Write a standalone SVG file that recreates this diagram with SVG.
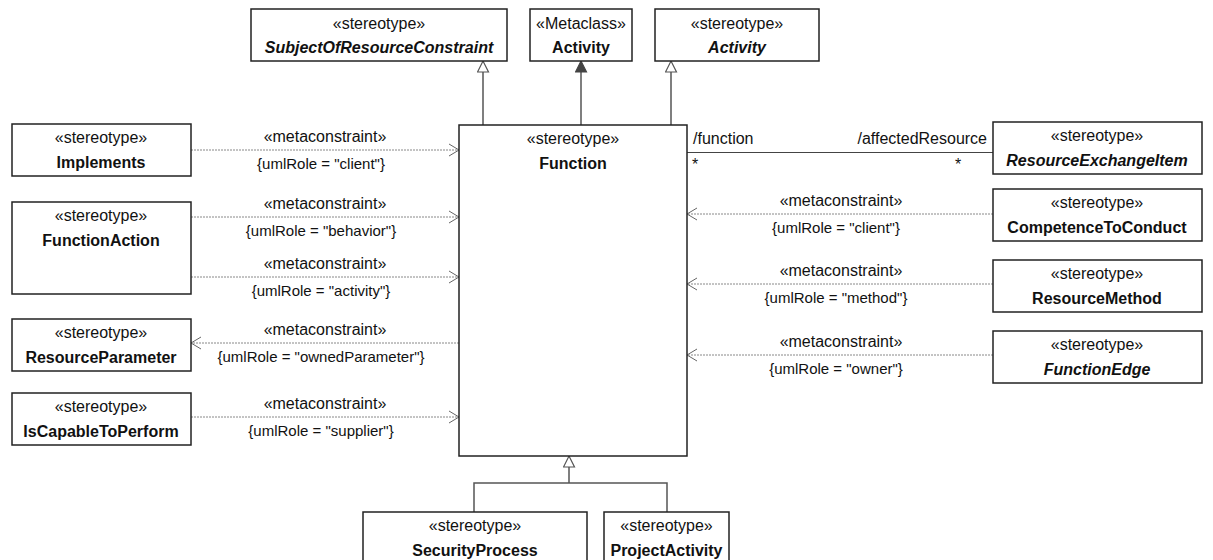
<svg xmlns="http://www.w3.org/2000/svg" width="1213" height="560" viewBox="0 0 1213 560">
<defs>
<style>
.box{fill:#fff;stroke:#222;stroke-width:1.5}
.st{font-family:"Liberation Sans",Arial,sans-serif;font-size:16px;fill:#111;text-anchor:middle}
.nm{font-family:"Liberation Sans",Arial,sans-serif;font-size:16px;font-weight:bold;fill:#111;text-anchor:middle}
.it{font-style:italic}
.lb{font-family:"Liberation Sans",Arial,sans-serif;font-size:16px;fill:#111;text-anchor:middle}
.cs{font-family:"Liberation Sans",Arial,sans-serif;font-size:15px;fill:#111;text-anchor:middle}
.rl{font-family:"Liberation Sans",Arial,sans-serif;font-size:16px;fill:#111}
.dep{fill:none;stroke:#888;stroke-width:1;stroke-dasharray:2,1}
.sol{fill:none;stroke:#555;stroke-width:1.5}
</style>
<marker id="open" markerWidth="12" markerHeight="14" refX="11" refY="7" orient="auto" markerUnits="userSpaceOnUse">
<path d="M1,1 L11,7 L1,13" fill="none" stroke="#666" stroke-width="1"/>
</marker>
<marker id="gen" markerWidth="14" markerHeight="14" refX="12" refY="6.5" orient="auto" markerUnits="userSpaceOnUse">
<path d="M1,1 L12,6.5 L1,12 Z" fill="#fff" stroke="#555" stroke-width="1.2"/>
</marker>
<marker id="ext" markerWidth="14" markerHeight="14" refX="12" refY="6.5" orient="auto" markerUnits="userSpaceOnUse">
<path d="M1,1 L12,6.5 L1,12 Z" fill="#444" stroke="#444" stroke-width="1.2"/>
</marker>
</defs>
<rect width="1213" height="560" fill="#fff"/>

<g id="connectors">
<path class="sol" d="M483,125 V61" marker-end="url(#gen)"/>
<path class="sol" d="M581,125 V61" marker-end="url(#ext)"/>
<path class="sol" d="M671,125 V61" marker-end="url(#gen)"/>
<path class="sol" d="M474,512 V483 H667 V512"/>
<path class="sol" d="M569,483 V456" marker-end="url(#gen)"/>
<path class="dep" d="M191,150 H459" marker-end="url(#open)"/>
<path class="dep" d="M191,217 H459" marker-end="url(#open)"/>
<path class="dep" d="M191,277 H459" marker-end="url(#open)"/>
<path class="dep" d="M459,343 H191" marker-end="url(#open)"/>
<path class="dep" d="M191,417 H459" marker-end="url(#open)"/>
<path class="dep" d="M993,214 H687" marker-end="url(#open)"/>
<path class="dep" d="M993,284 H687" marker-end="url(#open)"/>
<path class="dep" d="M993,355 H687" marker-end="url(#open)"/>
<path d="M687,152.5 H993" fill="none" stroke="#444" stroke-width="1.2"/>
<text class="lb" x="325" y="142">«metaconstraint»</text>
<text class="cs" x="321" y="169">{umlRole = "client"}</text>
<text class="lb" x="325" y="209">«metaconstraint»</text>
<text class="cs" x="321" y="236">{umlRole = "behavior"}</text>
<text class="lb" x="325" y="269">«metaconstraint»</text>
<text class="cs" x="321" y="296">{umlRole = "activity"}</text>
<text class="lb" x="325" y="335">«metaconstraint»</text>
<text class="cs" x="321" y="362">{umlRole = "ownedParameter"}</text>
<text class="lb" x="325" y="409">«metaconstraint»</text>
<text class="cs" x="321" y="436">{umlRole = "supplier"}</text>
<text class="lb" x="841" y="206">«metaconstraint»</text>
<text class="cs" x="836" y="233">{umlRole = "client"}</text>
<text class="lb" x="841" y="276">«metaconstraint»</text>
<text class="cs" x="836" y="303">{umlRole = "method"}</text>
<text class="lb" x="841" y="347">«metaconstraint»</text>
<text class="cs" x="836" y="374">{umlRole = "owner"}</text>
<text class="rl" x="693" y="144">/function</text>
<text class="rl" x="692" y="170">*</text>
<text class="rl" x="987" y="144" text-anchor="end">/affectedResource</text>
<text class="rl" x="955" y="170">*</text>
</g>

<g id="n-subject">
<rect class="box" x="251" y="9" width="256" height="52"/>
<text class="st" x="379" y="29">«stereotype»</text>
<text class="nm it" x="379" y="53">SubjectOfResourceConstraint</text>
</g>
<g id="n-metaactivity">
<rect class="box" x="530" y="9" width="102" height="52"/>
<text class="st" x="581" y="29">«Metaclass»</text>
<text class="nm" x="581" y="53">Activity</text>
</g>
<g id="n-stactivity">
<rect class="box" x="655" y="9" width="164" height="52"/>
<text class="st" x="737" y="29">«stereotype»</text>
<text class="nm it" x="737" y="53">Activity</text>
</g>
<g id="n-function">
<rect class="box" x="459" y="125" width="228" height="331"/>
<text class="st" x="573" y="144">«stereotype»</text>
<text class="nm" x="573" y="169">Function</text>
</g>
<g id="n-implements">
<rect class="box" x="12" y="124" width="179" height="52"/>
<text class="st" x="101" y="143">«stereotype»</text>
<text class="nm" x="101" y="168">Implements</text>
</g>
<g id="n-functionaction">
<rect class="box" x="12" y="202" width="179" height="92"/>
<text class="st" x="101" y="221">«stereotype»</text>
<text class="nm" x="101" y="246">FunctionAction</text>
</g>
<g id="n-resourceparameter">
<rect class="box" x="12" y="319" width="179" height="52"/>
<text class="st" x="101" y="338">«stereotype»</text>
<text class="nm" x="101" y="363">ResourceParameter</text>
</g>
<g id="n-iscapable">
<rect class="box" x="12" y="393" width="179" height="52"/>
<text class="st" x="101" y="412">«stereotype»</text>
<text class="nm" x="101" y="437">IsCapableToPerform</text>
</g>
<g id="n-rei">
<rect class="box" x="993" y="122" width="209" height="52"/>
<text class="st" x="1097" y="141">«stereotype»</text>
<text class="nm it" x="1097" y="166">ResourceExchangeItem</text>
</g>
<g id="n-competence">
<rect class="box" x="993" y="189" width="209" height="52"/>
<text class="st" x="1097" y="208">«stereotype»</text>
<text class="nm" x="1097" y="233">CompetenceToConduct</text>
</g>
<g id="n-resourcemethod">
<rect class="box" x="993" y="260" width="209" height="52"/>
<text class="st" x="1097" y="279">«stereotype»</text>
<text class="nm" x="1097" y="304">ResourceMethod</text>
</g>
<g id="n-functionedge">
<rect class="box" x="993" y="331" width="209" height="52"/>
<text class="st" x="1097" y="350">«stereotype»</text>
<text class="nm it" x="1097" y="375">FunctionEdge</text>
</g>
<g id="n-security">
<rect class="box" x="363" y="512" width="224" height="52"/>
<text class="st" x="475" y="531">«stereotype»</text>
<text class="nm" x="475" y="556">SecurityProcess</text>
</g>
<g id="n-project">
<rect class="box" x="604" y="512" width="125" height="52"/>
<text class="st" x="666.5" y="531">«stereotype»</text>
<text class="nm" x="666.5" y="556">ProjectActivity</text>
</g>
</svg>
